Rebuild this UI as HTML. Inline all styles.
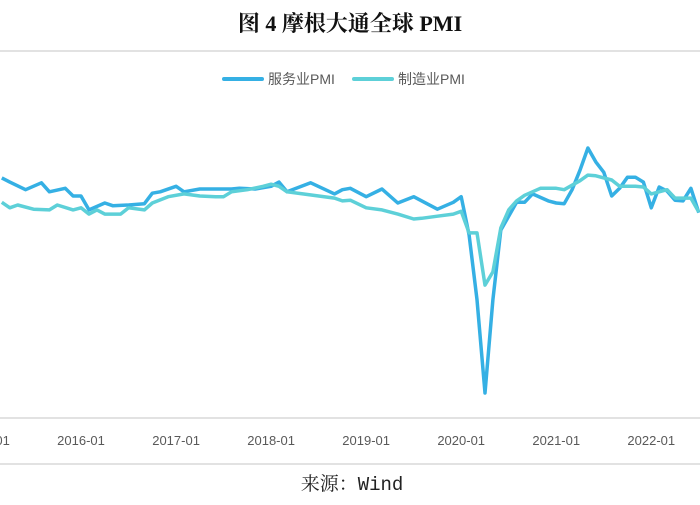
<!DOCTYPE html>
<html><head><meta charset="utf-8"><style>
body{margin:0;background:#fff;}
svg text{font-family:"Liberation Sans","Noto Sans CJK SC",sans-serif;}
</style></head><body>
<svg width="700" height="500" viewBox="0 0 700 500">
<text x="350" y="31" text-anchor="middle" font-size="22" font-weight="bold" fill="#111" style="font-family:'Liberation Serif','Noto Serif CJK SC',serif">图 4  摩根大通全球 PMI</text>
<line x1="0" y1="51" x2="700" y2="51" stroke="#d9d9d9" stroke-width="1.5"/>
<g>
<g><line x1="224" y1="79" x2="262" y2="79" stroke="#35b0e4" stroke-width="4" stroke-linecap="round"/><text x="268" y="84" font-size="14" fill="#595959">服务业PMI</text></g>
<g><line x1="354" y1="79" x2="392" y2="79" stroke="#5dd0d8" stroke-width="4" stroke-linecap="round"/><text x="398" y="84" font-size="14" fill="#595959">制造业PMI</text></g>
</g>
<line x1="0" y1="418" x2="700" y2="418" stroke="#d9d9d9" stroke-width="1.5"/>
<g id="ticks"></g>
<g id="series"></g>
<line x1="0" y1="464" x2="700" y2="464" stroke="#d9d9d9" stroke-width="1.5"/>
<text x="352" y="490" text-anchor="middle" font-size="19" fill="#222" style="font-family:'Liberation Mono','Noto Serif CJK SC',monospace">来源：Wind</text>
</svg>
<script>
// month index counted from 2015-01 (=0)
const tickLabels=["2015-01","2016-01","2017-01","2018-01","2019-01","2020-01","2021-01","2022-01"];
const tickMonths=[0,12,24,36,48,60,72,84];
const servMonths=[2,3,5,7,8,10,11,12,13,15,16,18,20,21,22,24,25,27,31,32,34,36,37,38,41,44,45,46,48,50,52,54,57,59,60,61,62,63,64,65,67,68,69,71,72,73,74,75,76,77,78,79,80,81,82,83,84,85,86,87,88,89,90];
const servValues=[54.6,54.0,52.9,53.9,52.6,53.1,52.0,52.0,50.0,51.0,50.6,50.7,50.9,52.4,52.6,53.4,52.6,53.0,53.0,53.1,53.0,53.4,54.0,52.6,53.9,52.3,52.9,53.1,51.9,53.0,51.0,51.9,50.1,51.1,51.9,46.4,37.1,23.7,37.1,47.1,51.1,51.1,52.3,51.3,51.0,50.9,52.9,55.7,58.9,56.9,55.4,52.0,53.1,54.7,54.7,54.0,50.3,53.3,52.7,51.4,51.3,53.1,49.6];
const mfgMonths=[2,3,4,6,8,9,11,12,13,14,15,17,18,20,21,23,25,27,29,30,31,33,35,36,37,38,40,44,45,46,48,50,52,54,55,57,59,60,61,62,63,64,65,66,67,68,70,72,73,75,76,77,79,80,82,83,84,86,87,89,90];
const mfgValues=[51.1,50.3,50.7,50.1,50.0,50.7,50.0,50.3,49.4,50.0,49.4,49.4,50.3,50.0,51.0,51.9,52.3,52.0,51.9,51.9,52.6,52.9,53.4,53.7,53.4,52.6,52.3,51.7,51.3,51.4,50.3,50.0,49.4,48.7,48.8,49.1,49.4,49.8,46.7,46.7,39.2,41.1,47.4,50.0,51.3,52.1,53.1,53.1,52.9,54.2,55.0,54.9,54.3,53.4,53.4,53.3,52.3,52.9,51.7,51.7,49.7];
const xs=m=>-14+m*7.92;
const ys=v=>196+(52-v)*6.96;
const NS="http://www.w3.org/2000/svg";
const tg=document.getElementById('ticks');
tickLabels.forEach((l,i)=>{const t=document.createElementNS(NS,'text');
t.setAttribute('x',xs(tickMonths[i]));t.setAttribute('y',445);t.setAttribute('text-anchor','middle');
t.setAttribute('font-size','13');t.setAttribute('fill','#595959');t.textContent=l;


tg.appendChild(t);});
const sg=document.getElementById('series');
function draw(ms,vs,color,name){const p=document.createElementNS(NS,'polyline');
p.setAttribute('points',ms.map((m,i)=>xs(m).toFixed(1)+','+ys(vs[i]).toFixed(1)).join(' '));
p.setAttribute('fill','none');p.setAttribute('stroke',color);p.setAttribute('stroke-width','3.5');p.setAttribute('stroke-linejoin','round');


sg.appendChild(p);}
draw(servMonths,servValues,'#35b0e4','services-pmi-line');
draw(mfgMonths,mfgValues,'#5dd0d8','manufacturing-pmi-line');
</script>
</body></html>
